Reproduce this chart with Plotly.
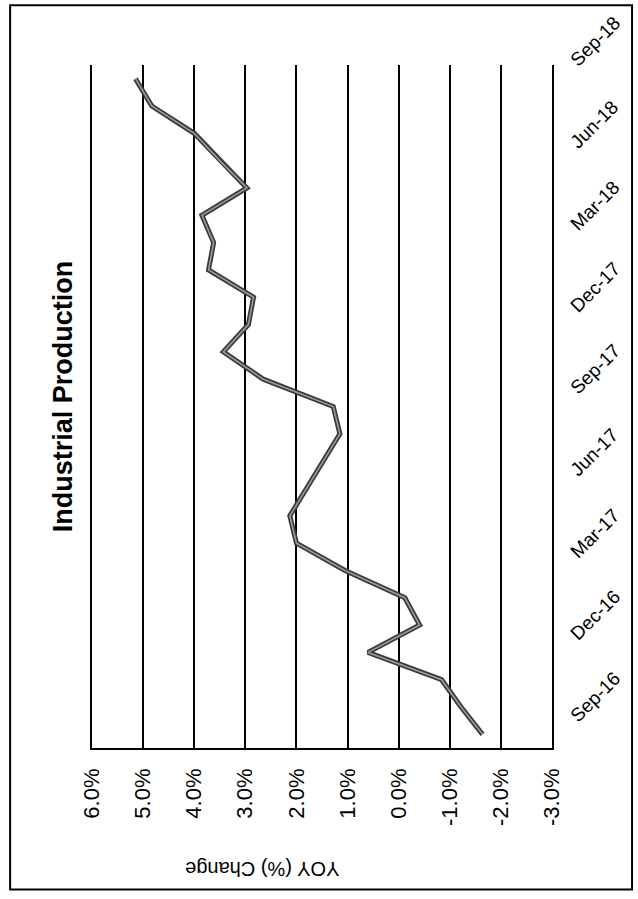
import plotly.graph_objects as go

# Monthly year-over-year change in industrial production (%)
months = ["Sep-16", "Oct-16", "Nov-16", "Dec-16", "Jan-17", "Feb-17", "Mar-17",
          "Apr-17", "May-17", "Jun-17", "Jul-17", "Aug-17", "Sep-17", "Oct-17",
          "Nov-17", "Dec-17", "Jan-18", "Feb-18", "Mar-18", "Apr-18", "May-18",
          "Jun-18", "Jul-18", "Aug-18", "Sep-18"]
yoy = [-1.64, -1.22, -0.84, 0.60, -0.41, -0.12, 1.05, 2.00, 2.13, 1.80, 1.48,
       1.15, 1.28, 2.65, 3.43, 2.94, 2.84, 3.72, 3.62, 3.85, 2.97, 3.50, 4.00,
       4.83, 5.15]

value_ticks = [6, 5, 4, 3, 2, 1, 0, -1, -2, -3]
value_labels = [f"{v:.1f}%" for v in value_ticks]
date_ticks = ["Sep-16", "Dec-16", "Mar-17", "Jun-17", "Sep-17", "Dec-17",
              "Mar-18", "Jun-18", "Sep-18"]

idx = list(range(len(months)))
date_pos = [months.index(m) for m in date_ticks]

FONT = "Liberation Sans, Arial, sans-serif"

fig = go.Figure()
# thick dark stroke with a lighter core, as the printed series line
fig.add_trace(go.Scatter(x=yoy, y=idx, mode="lines",
                         line=dict(color="#3a3a3a", width=5),
                         hoverinfo="skip", showlegend=False))
fig.add_trace(go.Scatter(x=yoy, y=idx, mode="lines",
                         line=dict(color="#9a9a9a", width=1.6),
                         customdata=months,
                         hovertemplate="%{customdata}: %{x:.1f}%<extra></extra>",
                         showlegend=False))

fig.update_layout(
    width=638, height=899,
    margin=dict(l=92, r=86, t=62, b=151),
    paper_bgcolor="white", plot_bgcolor="white",
    font=dict(family=FONT, color="black"),
    xaxis=dict(
        range=[6, -3], tickvals=value_ticks, ticktext=value_labels,
        tickangle=-90, tickfont=dict(size=22),
        showgrid=True, gridcolor="black", gridwidth=1.5,
        showline=True, linecolor="black", linewidth=1.5, mirror=False,
        zeroline=False, ticks="", ticklabelstandoff=10,
    ),
    yaxis=dict(
        range=[-0.5, len(months) - 0.5], side="right",
        tickvals=date_pos, ticktext=date_ticks,
        tickangle=-45, tickfont=dict(size=19),
        showgrid=False, zeroline=False,
        showline=True, mirror=True, linecolor="black", linewidth=1.5,
        ticks="", ticklabelstandoff=14, ticklabelshift=-15,
    ),
    shapes=[dict(type="rect", xref="paper", yref="paper",
                 x0=-0.178, x1=1.174, y0=-0.207, y1=1.0875,
                 line=dict(color="black", width=2), layer="below")],
    annotations=[
        dict(text="<b>Industrial Production</b>", xref="paper", yref="paper",
             x=-0.063, y=0.515, xanchor="center", yanchor="middle",
             textangle=-90, showarrow=False,
             font=dict(size=27, family=FONT)),
        dict(text="YOY (%) Change", xref="paper", yref="paper",
             x=0.37, y=-0.178, xanchor="center", yanchor="middle",
             textangle=180, showarrow=False,
             font=dict(size=20, family=FONT)),
    ],
)

fig.write_html("out.html")
